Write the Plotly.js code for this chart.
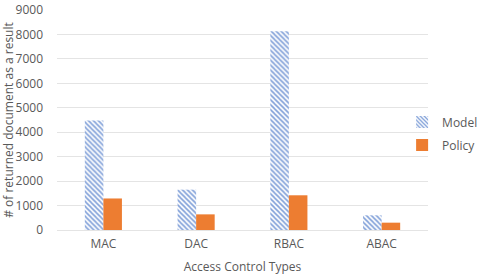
<!DOCTYPE html>
<html>
<head>
<meta charset="utf-8">
<script src="https://cdn.plot.ly/plotly-3.0.1.min.js"></script>
<style>html,body{margin:0;padding:0;background:#fff;}#chart{width:477px;height:275px;}</style>
</head>
<body>
<div id="chart"></div>
<script>
var categories = ["MAC", "DAC", "RBAC", "ABAC"];
var modelValues = [4480, 1650, 8130, 600];
var policyValues = [1290, 640, 1420, 300];
var yTicks = [0, 1000, 2000, 3000, 4000, 5000, 6000, 7000, 8000, 9000];

var font = {family: "'Open Sans', Lato, sans-serif", size: 12, color: "#595959"};

var traces = [
  {
    type: "bar", name: "Model", x: categories, y: modelValues, legendgroup: "a",
    marker: {color: "#ffffff", line: {width: 0},
      pattern: {shape: "\\", fgcolor: "#7f9fd8", bgcolor: "#ffffff", size: 3.5, solidity: 0.45}}
  },
  {
    type: "bar", name: "Policy", x: categories, y: policyValues, legendgroup: "b",
    marker: {color: "#ED7D31", line: {width: 0}}
  }
];

var layout = {
  width: 477, height: 275,
  margin: {l: 57, r: 49, t: 10, b: 45, autoexpand: false},
  paper_bgcolor: "#ffffff", plot_bgcolor: "#ffffff",
  font: font,
  barmode: "group", bargap: 0.6, bargroupgap: 0,
  showlegend: true,
  legend: {xref: "container", yref: "container", x: 0.843, y: 0.515, xanchor: "left", yanchor: "middle", font: font,
    itemwidth: 30, traceorder: "grouped", tracegroupgap: 4, bgcolor: "rgba(0,0,0,0)"},
  xaxis: {
    type: "category", showgrid: false, zeroline: false, showline: false, automargin: false,
    ticks: "", tickfont: font, ticklabelstandoff: 5,
    title: {text: "Access Control Types", font: font, standoff: 12}
  },
  yaxis: {
    range: [0, 9000], tickvals: yTicks, ticktext: yTicks.map(String), automargin: false,
    showgrid: true, gridcolor: "#e4e4e4", gridwidth: 1,
    zeroline: true, zerolinecolor: "#e4e4e4", showline: false, ticks: "",
    tickfont: font, ticklabelstandoff: 13,
    title: {text: "# of returned document as a result", font: font, standoff: 4}
  }
};

Plotly.newPlot("chart", traces, layout, {displayModeBar: false, staticPlot: true});
</script>
</body>
</html>
